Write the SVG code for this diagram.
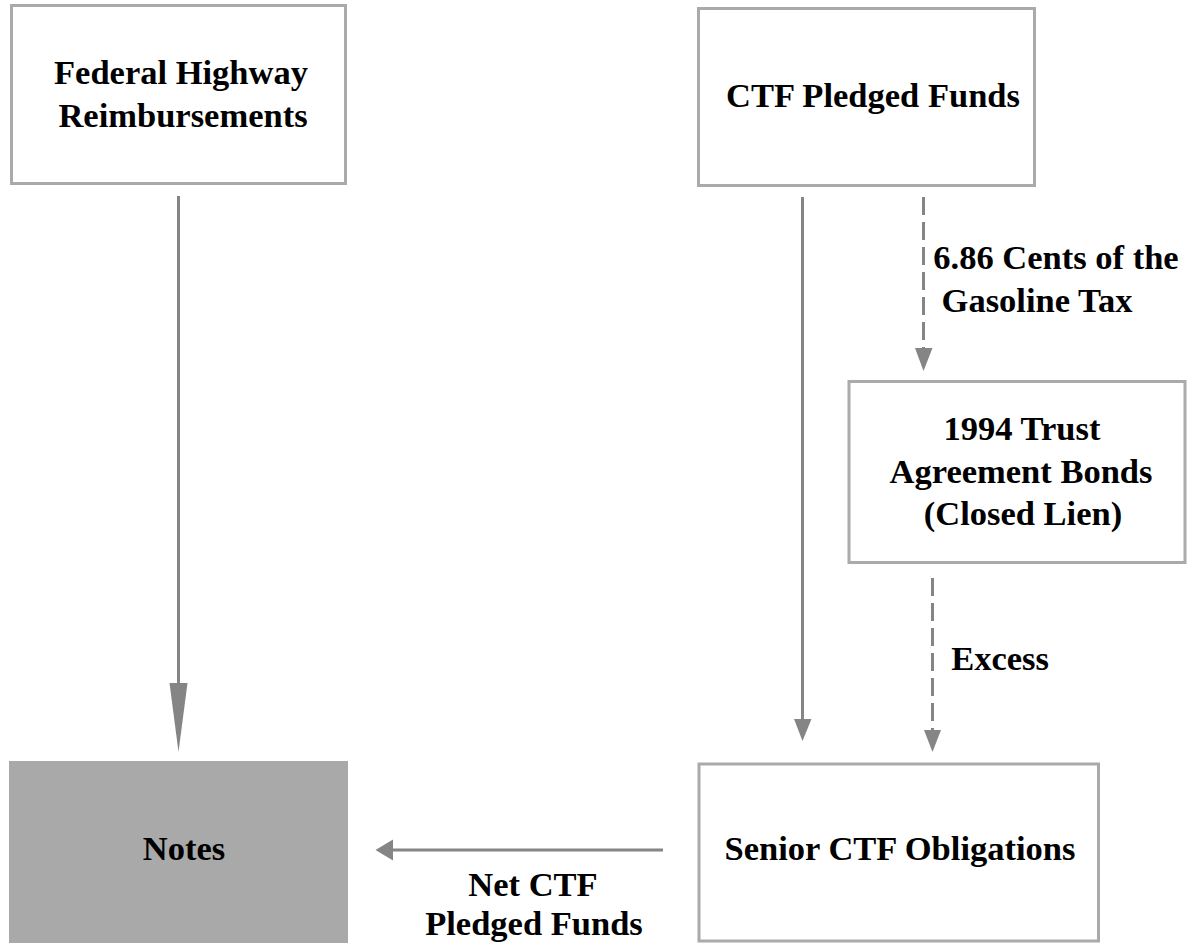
<svg xmlns="http://www.w3.org/2000/svg" width="1192" height="943" viewBox="0 0 1192 943">
  <style>
    .box { fill: #ffffff; stroke: #aaaaaa; stroke-width: 3; }
    .box-filled { fill: #a9a9a9; stroke: none; }
    .label { font-family: "Liberation Serif", "Times New Roman", serif; font-weight: bold; font-size: 34.5px; fill: #000000; text-anchor: middle; }
    .edge { stroke: #858585; stroke-width: 3; fill: none; }
    .edge-dashed { stroke: #858585; stroke-width: 3; fill: none; stroke-dasharray: 18 7; }
    .head { fill: #858585; stroke: none; }
  </style>
  <rect width="1192" height="943" fill="#ffffff"/>

  <!-- Connectors -->
  <g id="connectors">
    <!-- Federal Highway Reimbursements to Notes -->
    <line class="edge" x1="178.5" y1="196" x2="178.5" y2="690"/>
    <polygon class="head" points="169.5,683 187.5,683 178.5,752"/>

    <!-- CTF Pledged Funds to Senior CTF Obligations -->
    <line class="edge" x1="802.5" y1="197" x2="802.5" y2="722"/>
    <polygon class="head" points="794,719 811.5,719 802.5,741"/>

    <!-- CTF Pledged Funds to 1994 Trust Agreement Bonds -->
    <line class="edge-dashed" x1="923.5" y1="197" x2="923.5" y2="350"/>
    <polygon class="head" points="915,348 932.5,348 923.5,371"/>
    <text class="label" x="1056" y="269">6.86 Cents of the</text>
    <text class="label" x="1037" y="312">Gasoline Tax</text>

    <!-- 1994 Trust Agreement Bonds to Senior CTF Obligations -->
    <line class="edge-dashed" x1="932.5" y1="578" x2="932.5" y2="732"/>
    <polygon class="head" points="924,730 941,730 932.5,752"/>
    <text class="label" x="1000" y="670">Excess</text>

    <!-- Senior CTF Obligations to Notes -->
    <line class="edge" x1="663" y1="850" x2="390" y2="850"/>
    <polygon class="head" points="393,839.5 393,860.5 375.5,850"/>
    <text class="label" x="533" y="896">Net CTF</text>
    <text class="label" x="534" y="935">Pledged Funds</text>
  </g>

  <!-- Nodes -->
  <g id="node-federal">
    <rect class="box" x="11.5" y="5.5" width="334" height="178"/>
    <text class="label" x="181" y="84">Federal Highway</text>
    <text class="label" x="183" y="127">Reimbursements</text>
  </g>

  <g id="node-ctf">
    <rect class="box" x="698.5" y="8.5" width="336" height="177"/>
    <text class="label" x="873" y="107">CTF Pledged Funds</text>
  </g>

  <g id="node-1994">
    <rect class="box" x="849" y="381.5" width="336" height="181"/>
    <text class="label" x="1022" y="440">1994 Trust</text>
    <text class="label" x="1021" y="483">Agreement Bonds</text>
    <text class="label" x="1023" y="525">(Closed Lien)</text>
  </g>

  <g id="node-notes">
    <rect class="box-filled" x="9" y="761" width="339" height="190"/>
    <text class="label" x="184" y="860">Notes</text>
  </g>

  <g id="node-senior">
    <rect class="box" x="699" y="764" width="399.5" height="177"/>
    <text class="label" x="900" y="860">Senior CTF Obligations</text>
  </g>
</svg>
